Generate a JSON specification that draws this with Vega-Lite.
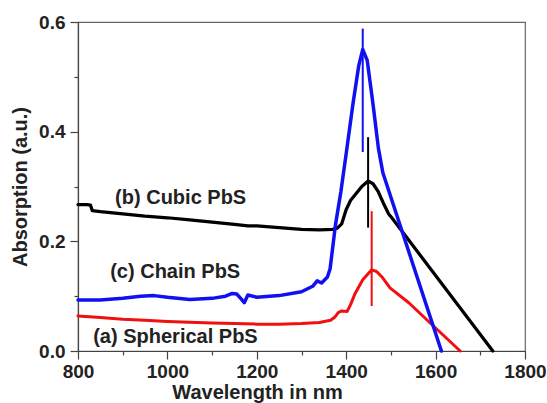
{
  "$schema": "https://vega.github.io/schema/vega-lite/v6.json",
  "width": 447,
  "height": 329,
  "autosize": "none",
  "padding": {"left": 78, "top": 22, "right": 22, "bottom": 52},
  "background": "white",
  "config": {
    "font": "Liberation Sans",
    "view": {"stroke": "#666666", "strokeWidth": 1.2}
  },
  "datasets": {
    "curves": [
      {"series": "b", "x": 800, "y": 0.267}, {"series": "b", "x": 820, "y": 0.267}, {"series": "b", "x": 828, "y": 0.266},
      {"series": "b", "x": 832, "y": 0.256}, {"series": "b", "x": 850, "y": 0.254}, {"series": "b", "x": 900, "y": 0.25},
      {"series": "b", "x": 950, "y": 0.246}, {"series": "b", "x": 1000, "y": 0.243}, {"series": "b", "x": 1050, "y": 0.239},
      {"series": "b", "x": 1100, "y": 0.235}, {"series": "b", "x": 1150, "y": 0.231}, {"series": "b", "x": 1180, "y": 0.228},
      {"series": "b", "x": 1200, "y": 0.228}, {"series": "b", "x": 1250, "y": 0.225}, {"series": "b", "x": 1300, "y": 0.222},
      {"series": "b", "x": 1340, "y": 0.221}, {"series": "b", "x": 1370, "y": 0.222}, {"series": "b", "x": 1380, "y": 0.224},
      {"series": "b", "x": 1390, "y": 0.232}, {"series": "b", "x": 1400, "y": 0.258}, {"series": "b", "x": 1410, "y": 0.275},
      {"series": "b", "x": 1420, "y": 0.285}, {"series": "b", "x": 1435, "y": 0.3}, {"series": "b", "x": 1449, "y": 0.31},
      {"series": "b", "x": 1460, "y": 0.305}, {"series": "b", "x": 1472, "y": 0.29}, {"series": "b", "x": 1483, "y": 0.27},
      {"series": "b", "x": 1495, "y": 0.25}, {"series": "b", "x": 1502, "y": 0.243}, {"series": "b", "x": 1728, "y": 0.0},

      {"series": "a", "x": 800, "y": 0.064}, {"series": "a", "x": 850, "y": 0.061}, {"series": "a", "x": 900, "y": 0.058},
      {"series": "a", "x": 950, "y": 0.056}, {"series": "a", "x": 1000, "y": 0.054}, {"series": "a", "x": 1100, "y": 0.051},
      {"series": "a", "x": 1200, "y": 0.049}, {"series": "a", "x": 1250, "y": 0.049}, {"series": "a", "x": 1300, "y": 0.05},
      {"series": "a", "x": 1340, "y": 0.052}, {"series": "a", "x": 1365, "y": 0.056}, {"series": "a", "x": 1375, "y": 0.062},
      {"series": "a", "x": 1382, "y": 0.07}, {"series": "a", "x": 1390, "y": 0.073}, {"series": "a", "x": 1402, "y": 0.072},
      {"series": "a", "x": 1410, "y": 0.085}, {"series": "a", "x": 1420, "y": 0.105}, {"series": "a", "x": 1437, "y": 0.13},
      {"series": "a", "x": 1457, "y": 0.148}, {"series": "a", "x": 1468, "y": 0.145}, {"series": "a", "x": 1480, "y": 0.135},
      {"series": "a", "x": 1498, "y": 0.115}, {"series": "a", "x": 1540, "y": 0.088}, {"series": "a", "x": 1588, "y": 0.051},
      {"series": "a", "x": 1655, "y": 0.0},

      {"series": "c", "x": 800, "y": 0.093}, {"series": "c", "x": 850, "y": 0.093}, {"series": "c", "x": 900, "y": 0.096},
      {"series": "c", "x": 940, "y": 0.1}, {"series": "c", "x": 970, "y": 0.101}, {"series": "c", "x": 1000, "y": 0.098},
      {"series": "c", "x": 1050, "y": 0.094}, {"series": "c", "x": 1100, "y": 0.096}, {"series": "c", "x": 1130, "y": 0.1},
      {"series": "c", "x": 1145, "y": 0.105}, {"series": "c", "x": 1155, "y": 0.104}, {"series": "c", "x": 1165, "y": 0.095},
      {"series": "c", "x": 1172, "y": 0.088}, {"series": "c", "x": 1180, "y": 0.102}, {"series": "c", "x": 1200, "y": 0.098},
      {"series": "c", "x": 1250, "y": 0.101}, {"series": "c", "x": 1300, "y": 0.108}, {"series": "c", "x": 1325, "y": 0.118},
      {"series": "c", "x": 1335, "y": 0.128}, {"series": "c", "x": 1345, "y": 0.124}, {"series": "c", "x": 1358, "y": 0.135},
      {"series": "c", "x": 1364, "y": 0.15}, {"series": "c", "x": 1370, "y": 0.19}, {"series": "c", "x": 1376, "y": 0.23},
      {"series": "c", "x": 1388, "y": 0.29}, {"series": "c", "x": 1400, "y": 0.36}, {"series": "c", "x": 1415, "y": 0.45},
      {"series": "c", "x": 1428, "y": 0.52}, {"series": "c", "x": 1437, "y": 0.55}, {"series": "c", "x": 1447, "y": 0.53},
      {"series": "c", "x": 1460, "y": 0.45}, {"series": "c", "x": 1472, "y": 0.37}, {"series": "c", "x": 1482, "y": 0.325},
      {"series": "c", "x": 1613, "y": 0.0}
    ],
    "rules": [
      {"series": "c", "x": 1437, "y": 0.363, "y2": 0.588},
      {"series": "b", "x": 1449, "y": 0.225, "y2": 0.39},
      {"series": "a", "x": 1457, "y": 0.082, "y2": 0.255}
    ],
    "labels": [
      {"text": "(b) Cubic PbS", "x": 883, "y": 0.279},
      {"text": "(c) Chain PbS", "x": 872, "y": 0.144},
      {"text": "(a) Spherical PbS", "x": 834, "y": 0.0255}
    ]
  },
  "encoding": {
    "x": {
      "field": "x", "type": "quantitative",
      "scale": {"domain": [800, 1800], "nice": false, "zero": false},
      "axis": {
        "values": [800, 900, 1000, 1100, 1200, 1300, 1400, 1500, 1600, 1700, 1800],
        "labelExpr": "datum.value % 200 === 0 ? datum.label : ''",
        "format": "d",
        "grid": false,
        "tickSize": {"condition": {"test": "datum.value % 200 === 0", "value": 8}, "value": 4},
        "tickColor": "#444444", "domainColor": "#444444", "tickWidth": 1.2, "domainWidth": 1.2,
        "labelFontSize": 19, "labelFontWeight": "bold", "labelColor": "#222222", "labelPadding": 3,
        "labelFlush": false, "labelOverlap": false,
        "title": "Wavelength in nm", "titleFontSize": 20, "titleFontWeight": "bold", "titleColor": "#222222",
        "titlePadding": 1, "titleX": 179, "titleAlign": "center"
      }
    },
    "y": {
      "field": "y", "type": "quantitative",
      "scale": {"domain": [0, 0.6], "nice": false},
      "axis": {
        "values": [0, 0.1, 0.2, 0.3, 0.4, 0.5, 0.6],
        "labelExpr": "(round(datum.value * 10) % 2 === 0) ? format(datum.value, '.1f') : ''",
        "grid": false,
        "tickSize": {"condition": {"test": "round(datum.value * 10) % 2 === 0", "value": 8}, "value": 4},
        "tickColor": "#444444", "domainColor": "#444444", "tickWidth": 1.2, "domainWidth": 1.2,
        "labelFontSize": 19, "labelFontWeight": "bold", "labelColor": "#222222", "labelPadding": 5,
        "labelFlush": false, "labelOverlap": false,
        "title": "Absorption (a.u.)", "titleFontSize": 20, "titleFontWeight": "bold", "titleColor": "#222222",
        "titlePadding": 8
      }
    }
  },
  "layer": [
    {
      "data": {"name": "curves"},
      "mark": {"type": "line", "strokeJoin": "round", "strokeCap": "round"},
      "encoding": {
        "color": {"field": "series", "type": "nominal", "scale": {"domain": ["a", "b", "c"], "range": ["#f01010", "#000000", "#1010f0"]}, "legend": null},
        "strokeWidth": {"field": "series", "type": "nominal", "scale": {"domain": ["a", "b", "c"], "range": [3, 3.5, 3.8]}, "legend": null},
        "order": {"field": "x", "type": "quantitative"}
      }
    },
    {
      "data": {"name": "rules"},
      "mark": {"type": "rule", "strokeWidth": 2},
      "encoding": {
        "y2": {"field": "y2"},
        "color": {"field": "series", "type": "nominal", "scale": {"domain": ["a", "b", "c"], "range": ["#f01010", "#000000", "#1010f0"]}, "legend": null}
      }
    },
    {
      "data": {"name": "labels"},
      "mark": {"type": "text", "align": "left", "baseline": "middle", "fontSize": 20, "fontWeight": "bold", "color": "#222222", "font": "Liberation Sans"},
      "encoding": {
        "text": {"field": "text", "type": "nominal"}
      }
    }
  ]
}
